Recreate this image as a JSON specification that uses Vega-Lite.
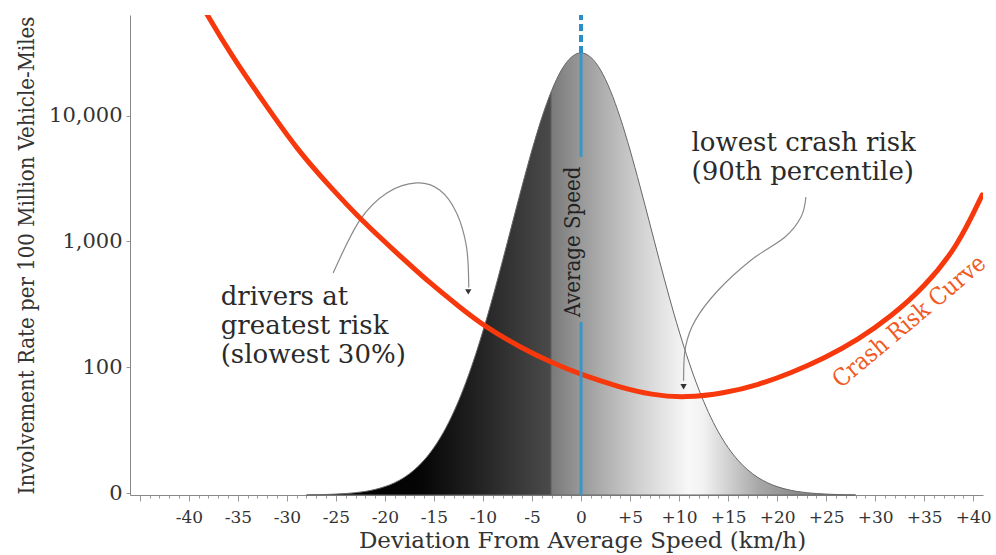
{
  "$schema": "https://vega.github.io/schema/vega-lite/v6.json",
  "width": 853,
  "height": 480,
  "autosize": "none",
  "padding": {"left": 130, "top": 15, "right": 13, "bottom": 60},
  "background": "white",
  "config": {"view": {"stroke": null}},
  "datasets": {
    "bell": [
      {"x": -28, "rate": 9.67}, {"x": -27, "rate": 9.69}, {"x": -26, "rate": 9.74}, {"x": -25, "rate": 9.81},
      {"x": -24, "rate": 9.91}, {"x": -23, "rate": 10.07}, {"x": -22, "rate": 10.31}, {"x": -21, "rate": 10.69},
      {"x": -20, "rate": 11.25}, {"x": -19, "rate": 12.09}, {"x": -18, "rate": 13.36}, {"x": -17, "rate": 15.3},
      {"x": -16, "rate": 18.27}, {"x": -15, "rate": 23.0}, {"x": -14, "rate": 30.7}, {"x": -13, "rate": 43.8},
      {"x": -12, "rate": 67.1}, {"x": -11, "rate": 110.3}, {"x": -10, "rate": 194}, {"x": -9, "rate": 361},
      {"x": -8, "rate": 703}, {"x": -7, "rate": 1399}, {"x": -6, "rate": 2772}, {"x": -5, "rate": 5326},
      {"x": -4, "rate": 9610}, {"x": -3, "rate": 15780}, {"x": -2, "rate": 22980}, {"x": -1, "rate": 29060},
      {"x": 0, "rate": 31490},
      {"x": 1, "rate": 29060}, {"x": 2, "rate": 22980}, {"x": 3, "rate": 15780}, {"x": 4, "rate": 9610},
      {"x": 5, "rate": 5326}, {"x": 6, "rate": 2772}, {"x": 7, "rate": 1399}, {"x": 8, "rate": 703},
      {"x": 9, "rate": 361}, {"x": 10, "rate": 194}, {"x": 11, "rate": 110.3}, {"x": 12, "rate": 67.1},
      {"x": 13, "rate": 43.8}, {"x": 14, "rate": 30.7}, {"x": 15, "rate": 23.0}, {"x": 16, "rate": 18.27},
      {"x": 17, "rate": 15.3}, {"x": 18, "rate": 13.36}, {"x": 19, "rate": 12.09}, {"x": 20, "rate": 11.25},
      {"x": 21, "rate": 10.69}, {"x": 22, "rate": 10.31}, {"x": 23, "rate": 10.07}, {"x": 24, "rate": 9.91},
      {"x": 25, "rate": 9.81}, {"x": 26, "rate": 9.74}, {"x": 27, "rate": 9.69}, {"x": 28, "rate": 9.67}
    ],
    "risk": [
      {"x": -39.8, "rate": 107320}, {"x": -38.07, "rate": 61970}, {"x": -35.74, "rate": 30910},
      {"x": -32.39, "rate": 12837}, {"x": -28.93, "rate": 5333}, {"x": -25.58, "rate": 2710},
      {"x": -22.23, "rate": 1427}, {"x": -18.78, "rate": 809.5}, {"x": -15.43, "rate": 467.4},
      {"x": -12.39, "rate": 301.3}, {"x": -10.05, "rate": 216.7}, {"x": -6.29, "rate": 144.9},
      {"x": -2.94, "rate": 108.1}, {"x": 0.1, "rate": 86.8}, {"x": 3.86, "rate": 69.7},
      {"x": 7.21, "rate": 60.2}, {"x": 10.66, "rate": 57.0}, {"x": 14.72, "rate": 62.4},
      {"x": 18.07, "rate": 72.3}, {"x": 21.42, "rate": 90.0}, {"x": 24.87, "rate": 118.4},
      {"x": 28.22, "rate": 164.7}, {"x": 31.57, "rate": 250.8}, {"x": 35.03, "rate": 434.4},
      {"x": 38.38, "rate": 903.5}, {"x": 40.91, "rate": 2339}
    ],
    "arrows": [
      {"grp": "a1", "i": 1, "x": -25.28, "rate": 561}, {"grp": "a1", "i": 2, "x": -22.54, "rate": 1481},
      {"grp": "a1", "i": 3, "x": -19.8, "rate": 2428}, {"grp": "a1", "i": 4, "x": -16.75, "rate": 2915},
      {"grp": "a1", "i": 5, "x": -14.42, "rate": 2564}, {"grp": "a1", "i": 6, "x": -12.69, "rate": 1684},
      {"grp": "a1", "i": 7, "x": -11.68, "rate": 904}, {"grp": "a1", "i": 8, "x": -11.45, "rate": 430},
      {"grp": "a2", "i": 1, "x": 22.94, "rate": 2256}, {"grp": "a2", "i": 2, "x": 22.44, "rate": 1565},
      {"grp": "a2", "i": 3, "x": 20.81, "rate": 1085}, {"grp": "a2", "i": 4, "x": 17.36, "rate": 712},
      {"grp": "a2", "i": 5, "x": 14.01, "rate": 411}, {"grp": "a2", "i": 6, "x": 11.68, "rate": 238},
      {"grp": "a2", "i": 7, "x": 10.66, "rate": 145}, {"grp": "a2", "i": 8, "x": 10.46, "rate": 78}
    ],
    "heads": [{"x": -11.5, "rate": 397}, {"x": 10.46, "rate": 70}],
    "notes": [
      {"x": -36.75, "rate": 362, "label": "drivers at"},
      {"x": -36.75, "rate": 213, "label": "greatest risk"},
      {"x": -36.75, "rate": 125, "label": "(slowest 30%)"},
      {"x": 11.27, "rate": 6061, "label": "lowest crash risk"},
      {"x": 11.27, "rate": 3566, "label": "(90th percentile)"}
    ],
    "avg": [{"x": -0.15, "rate": 990, "label": "Average Speed"}],
    "curveLabel": [{"x": 33.5, "rate": 229, "label": "Crash Risk Curve"}],
    "blueDash": [{"x": 0, "rate": 31490, "rate2": 63000}],
    "blueSolid": [{"x": 0, "rate": 4692, "rate2": 31490}, {"x": 0, "rate": 9.65, "rate2": 229}]
  },
  "encoding": {
    "x": {
      "field": "x", "type": "quantitative",
      "scale": {"domain": [-46, 41], "nice": false, "zero": false},
      "axis": {
        "values": [-45,-44,-43,-42,-41,-40,-39,-38,-37,-36,-35,-34,-33,-32,-31,-30,-29,-28,-27,-26,-25,-24,-23,-22,-21,-20,-19,-18,-17,-16,-15,-14,-13,-12,-11,-10,-9,-8,-7,-6,-5,-4,-3,-2,-1,0,1,2,3,4,5,6,7,8,9,10,11,12,13,14,15,16,17,18,19,20,21,22,23,24,25,26,27,28,29,30,31,32,33,34,35,36,37,38,39,40],
        "labelExpr": "(datum.value % 5 != 0 || datum.value < -40) ? '' : (datum.value > 0 ? '+' + datum.value : (datum.value < 0 ? '-' + abs(datum.value) : '0'))",
        "labelOverlap": false,
        "labelFlush": false,
        "labelFont": "DejaVu Serif",
        "labelFontSize": 17,
        "labelColor": "#333",
        "labelPadding": 8,
        "tickSize": {"condition": {"test": "datum.value % 5 == 0", "value": 6}, "value": 3},
        "tickColor": "#999",
        "domainColor": "#888",
        "grid": false,
        "title": "Deviation From Average Speed (km/h)",
        "titleFont": "DejaVu Serif",
        "titleFontSize": 23,
        "titleFontWeight": "normal",
        "titleColor": "#333",
        "titlePadding": 4,
        "titleX": 452
      }
    },
    "y": {
      "field": "rate", "type": "quantitative",
      "scale": {"type": "log", "domain": [9.65, 63000], "nice": false},
      "axis": {
        "values": [10, 100, 1000, 10000],
        "labelExpr": "datum.value == 10 ? '0' : format(datum.value, ',')",
        "labelFont": "DejaVu Serif",
        "labelFontSize": 21,
        "labelColor": "#333",
        "labelPadding": 4,
        "tickSize": 4,
        "tickColor": "#999",
        "domainColor": "#888",
        "grid": false,
        "title": "Involvement Rate per 100 Million Vehicle-Miles",
        "titleFont": "DejaVu Serif Condensed, Liberation Serif, serif",
        "titleFontSize": 22,
        "titleFontWeight": "normal",
        "titleColor": "#333",
        "titlePadding": 10
      }
    }
  },
  "layer": [
    {
      "data": {"name": "bell"},
      "mark": {
        "type": "area",
        "interpolate": "monotone",
        "opacity": 1,
        "stroke": "#666",
        "strokeWidth": 1,
        "fill": {
          "x1": 0, "y1": 0, "x2": 1, "y2": 0,
          "gradient": "linear",
          "stops": [
            {"offset": 0, "color": "#000000"},
            {"offset": 0.206, "color": "#050505"},
            {"offset": 0.298, "color": "#1e1e1e"},
            {"offset": 0.4437, "color": "#4a4a4a"},
            {"offset": 0.4474, "color": "#7a7a7a"},
            {"offset": 0.5016, "color": "#9a9a9a"},
            {"offset": 0.605, "color": "#d0d0d0"},
            {"offset": 0.696, "color": "#f8f8f8"},
            {"offset": 0.723, "color": "#f2f2f2"},
            {"offset": 0.823, "color": "#a8a8a8"},
            {"offset": 0.895, "color": "#8a8a8a"},
            {"offset": 1, "color": "#888888"}
          ]
        }
      },
      "encoding": {"y2": {"datum": 9.65}}
    },
    {
      "data": {"name": "arrows"},
      "mark": {"type": "line", "interpolate": "cardinal", "stroke": "#8a8a8a", "strokeWidth": 1.2},
      "encoding": {"detail": {"field": "grp"}, "order": {"field": "i"}}
    },
    {
      "data": {"name": "heads"},
      "mark": {"type": "point", "shape": "triangle-down", "filled": true, "size": 40, "color": "#333", "opacity": 1}
    },
    {
      "data": {"name": "risk"},
      "mark": {"type": "line", "interpolate": "basis", "clip": true, "stroke": "#f7380c", "strokeWidth": 5, "strokeCap": "round"}
    },
    {
      "data": {"name": "blueDash"},
      "mark": {"type": "rule", "stroke": "#2a8fc9", "strokeWidth": 4, "strokeDash": [7, 4]},
      "encoding": {"y2": {"field": "rate2"}}
    },
    {
      "data": {"name": "blueSolid"},
      "mark": {"type": "rule", "stroke": "#3a96c8", "strokeWidth": 3},
      "encoding": {"y2": {"field": "rate2"}}
    },
    {
      "data": {"name": "notes"},
      "mark": {"type": "text", "align": "left", "baseline": "middle", "font": "DejaVu Serif", "fontSize": 26, "color": "#2a2a2a"},
      "encoding": {"text": {"field": "label"}}
    },
    {
      "data": {"name": "avg"},
      "mark": {"type": "text", "align": "center", "baseline": "alphabetic", "angle": 270, "font": "DejaVu Serif Condensed, Liberation Serif, serif", "fontSize": 22, "color": "#222"},
      "encoding": {"text": {"field": "label"}}
    },
    {
      "data": {"name": "curveLabel"},
      "mark": {"type": "text", "align": "center", "baseline": "middle", "angle": 320, "font": "DejaVu Serif Condensed, Liberation Serif, serif", "fontSize": 24, "color": "#f15a24"},
      "encoding": {"text": {"field": "label"}}
    }
  ]
}
